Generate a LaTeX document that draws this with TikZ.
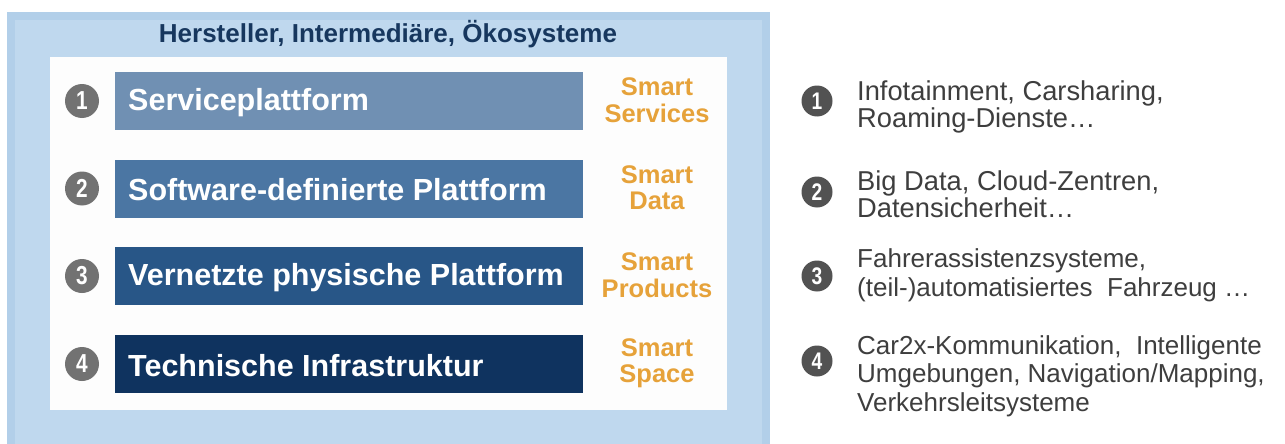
\documentclass[tikz,border=0pt]{standalone}
\usepackage{fontspec}
\setmainfont{Liberation Sans}
\newfontfamily\narrowdigits[FakeStretch=0.8]{Liberation Sans}
\definecolor{bgblue}{HTML}{BFD8EE}
\definecolor{bgedge}{HTML}{B2CFE9}
\definecolor{boxwhite}{HTML}{FDFDFD}
\definecolor{barA}{HTML}{7090B3}
\definecolor{barB}{HTML}{4B76A3}
\definecolor{barC}{HTML}{285687}
\definecolor{barD}{HTML}{0F335F}
\definecolor{titlec}{HTML}{17375E}
\definecolor{smartc}{HTML}{E6A23A}
\definecolor{numlc}{HTML}{727272}
\definecolor{numrc}{HTML}{525252}
\definecolor{itemc}{HTML}{3E3E3E}
\setlength{\lineskiplimit}{-30pt}
\begin{document}
\begin{tikzpicture}[x=1pt,y=-1pt,
  barbox/.style={anchor=north west, minimum height=58pt, minimum width=468pt, inner sep=0pt},
  bartext/.style={anchor=west, inner sep=0pt, text=white, font=\fontsize{30.5}{33}\selectfont\bfseries},
  smartlbl/.style={text=smartc, align=center, inner sep=0pt, font=\fontsize{25.5}{26.5}\selectfont\bfseries},
  numl/.style={circle, fill=numlc, text=white, minimum size=34pt, inner sep=0pt, font=\narrowdigits\fontsize{26}{26}\selectfont\bfseries},
  numr/.style={circle, fill=numrc, text=white, minimum size=31pt, inner sep=0pt, font=\narrowdigits\fontsize{24}{24}\selectfont\bfseries},
  itemtxt/.style={anchor=base west, align=left, text=itemc, inner sep=0pt, font=\fontsize{27.3}{27}\selectfont},
  itemsm/.style={anchor=base west, align=left, text=itemc, inner sep=0pt, font=\fontsize{26}{28.3}\selectfont}
]
\useasboundingbox (0,0) rectangle (1285,444);
\fill[white] (0,0) rectangle (1285,444);
% outer frame
\fill[bgblue] (7,12) rectangle (770,444);
\draw[bgedge, line width=8pt] (11,444) -- (11,16) -- (766,16) -- (766,444);
\node[font=\fontsize{26}{28}\selectfont\bfseries, text=titlec, inner sep=0pt, anchor=base] (title) at (388,43) {Hersteller, Intermediäre, Ökosysteme};
% inner white box
\fill[boxwhite] (50,57) rectangle (727,410);
% bars
\node[barbox, fill=barA] (b1) at (115,72) {};
\node[barbox, fill=barB] (b2) at (115,159.5) {};
\node[barbox, fill=barC] (b3) at (115,247) {};
\node[barbox, fill=barD] (b4) at (115,335) {};
\node[bartext] (l1) at ([xshift=13pt,yshift=-1pt]b1.west) {Serviceplattform};
\node[bartext] (l2) at ([xshift=13pt,yshift=-1pt]b2.west) {Software-definierte Plattform};
\node[bartext] (l3) at ([xshift=13pt,yshift=-1pt]b3.west) {Vernetzte physische Plattform};
\node[bartext] (l4) at ([xshift=13pt,yshift=-1pt]b4.west) {Technische Infrastruktur};
% left numbers
\node[numl] (n1) at (82,101) {1};
\node[numl] (n2) at (82,188.5) {2};
\node[numl] (n3) at (82,276) {3};
\node[numl] (n4) at (82,364) {4};
% smart labels
\node[smartlbl] (s1) at (657,100) {Smart\\Services};
\node[smartlbl] (s2) at (657,187.5) {Smart\\Data};
\node[smartlbl] (s3) at (657,275) {Smart\\Products};
\node[smartlbl] (s4) at (657,363) {Smart\\Space};
% right list
\node[numr] (r1) at (817,101) {1};
\node[numr] (r2) at (817,192) {2};
\node[numr] (r3) at (817,276) {3};
\node[numr] (r4) at (817,361) {4};
\node[itemtxt] (t1) at (857,127) {Infotainment, Carsharing,\\Roaming-Dienste\dots};
\node[itemtxt] (t2) at (857,217) {Big Data, Cloud-Zentren,\\Datensicherheit\dots};
\node[itemsm] (t3) at (857,296) {Fahrerassistenzsysteme,\\(teil-)automatisiertes\ \ Fahrzeug \dots};
\node[itemsm] (t4) at (857,411) {Car2x-Kommunikation,\ \ Intelligente\\Umgebungen, Navigation/Mapping,\\Verkehrsleitsysteme};
\end{tikzpicture}
\end{document}
